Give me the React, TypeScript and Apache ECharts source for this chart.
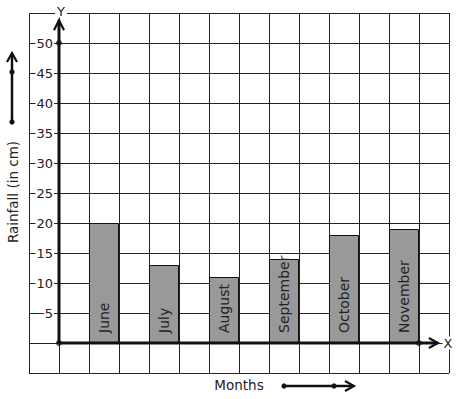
import React, { useEffect, useRef } from 'react';
import * as echarts from 'echarts';

const months = ['June', 'July', 'August', 'September', 'October', 'November'];
const rainfall = [20, 13, 11, 14, 18, 19];
const barCenters = [1.5, 3.5, 5.5, 7.5, 9.5, 11.5];
const yTickLabels = [5, 10, 15, 20, 25, 30, 35, 40, 45, 50];
const axisDots = [[0, 0], [0, 50], [12, 0]];
const yArrowEnd = 53.8;
const xArrowEnd = 12.63;
const yMax = 55;

const FONT = 'DejaVu Sans';
const INK = '#111';

export default function App() {
  const ref = useRef<HTMLDivElement>(null);
  useEffect(() => {
    document.body.style.margin = '0';
    const chart = echarts.init(ref.current!, null, { renderer: 'svg' });
    chart.setOption({
      animation: false,
      textStyle: { fontFamily: FONT },
      grid: { left: 29, right: 8, top: 13, bottom: 26, containLabel: false },
      xAxis: {
        type: 'value',
        min: -1,
        max: 13,
        interval: 1,
        name: 'X',
        nameLocation: 'end',
        nameGap: -1,
        nameTextStyle: {
          fontFamily: FONT, fontSize: 13, color: '#222', align: 'center', verticalAlign: 'middle',
          backgroundColor: '#fff', padding: [0, 1],
        },
        axisLine: { show: false, onZero: true },
        axisTick: { show: false },
        axisLabel: { show: false },
        splitLine: { show: true, lineStyle: { color: '#222', width: 1 } },
      },
      yAxis: {
        type: 'value',
        min: -5,
        max: yMax,
        interval: 5,
        axisLine: { show: false, onZero: false },
        axisTick: { show: false },
        axisLabel: {
          show: true,
          inside: true,
          align: 'right',
          margin: 25,
          customValues: yTickLabels,
          formatter: (v: number) => (yTickLabels.indexOf(v) >= 0 ? String(v) : ''),
          fontFamily: FONT,
          fontSize: 13,
          color: '#222',
          backgroundColor: '#fff',
          padding: [0, 1],
        },
        splitLine: { show: true, lineStyle: { color: '#222', width: 1 } },
      },
      series: [
        {
          type: 'bar',
          barWidth: 30,
          data: rainfall.map((v, i) => [barCenters[i], v]),
          itemStyle: { color: '#999999', borderColor: INK, borderWidth: 1 },
          label: {
            show: true,
            formatter: (p: any) => months[p.dataIndex],
            position: 'insideBottom',
            rotate: 90,
            align: 'left',
            verticalAlign: 'middle',
            distance: 10,
            fontFamily: FONT,
            fontSize: 14,
            color: '#222',
          },
          z: 2,
        },
        {
          type: 'line',
          data: [[0, 0], [0, yArrowEnd]],
          symbol: 'none',
          lineStyle: { color: INK, width: 3 },
          z: 3,
        },
        {
          type: 'line',
          data: [[0, 0], [xArrowEnd, 0]],
          symbol: 'none',
          lineStyle: { color: INK, width: 3 },
          z: 3,
        },
        {
          type: 'scatter',
          data: axisDots,
          symbol: 'circle',
          symbolSize: 6,
          itemStyle: { color: INK },
          z: 4,
        },
      ],
    });

    const px = (x: number, y: number) => chart.convertToPixel({ gridIndex: 0 }, [x, y]) as number[];
    const yTip = px(0, yArrowEnd);
    const xTip = px(xArrowEnd, 0);
    const yTop = px(0, yMax);
    const chev = { stroke: INK, lineWidth: 2.2, fill: 'none' };

    chart.setOption({
      graphic: [
        { type: 'polyline', shape: { points: [[yTip[0] - 5, yTip[1] + 10], [yTip[0], yTip[1]], [yTip[0] + 5, yTip[1] + 10]] }, style: chev, z: 10 },
        { type: 'polyline', shape: { points: [[xTip[0] - 9, xTip[1] - 5], [xTip[0], xTip[1]], [xTip[0] - 9, xTip[1] + 5]] }, style: chev, z: 10 },
        {
          type: 'text', x: yTop[0] + 2, y: yTop[1] - 2, z: 11,
          style: {
            text: 'Y', fontFamily: FONT, fontSize: 13, fill: '#222', align: 'center', verticalAlign: 'middle',
            backgroundColor: '#fff', padding: [0, 2],
          },
        },
        // left decorative arrow
        { type: 'line', shape: { x1: 12, y1: 122, x2: 12, y2: 54 }, style: { stroke: INK, lineWidth: 2.5 } },
        { type: 'polyline', shape: { points: [[7, 62], [12, 53], [17, 62]] }, style: chev },
        { type: 'circle', shape: { cx: 12, cy: 72, r: 2.6 }, style: { fill: INK } },
        { type: 'circle', shape: { cx: 12, cy: 122, r: 2.6 }, style: { fill: INK } },
        // bottom decorative arrow
        { type: 'line', shape: { x1: 284, y1: 386, x2: 353, y2: 386 }, style: { stroke: INK, lineWidth: 2.5 } },
        { type: 'polyline', shape: { points: [[345, 381], [354, 386], [345, 391]] }, style: chev },
        { type: 'circle', shape: { cx: 284, cy: 386, r: 2.6 }, style: { fill: INK } },
        { type: 'circle', shape: { cx: 334, cy: 386, r: 2.6 }, style: { fill: INK } },
        {
          type: 'text', x: 13, y: 192, rotation: Math.PI / 2,
          style: { text: 'Rainfall (in cm)', fontFamily: FONT, fontSize: 13.5, fill: '#222', align: 'center', verticalAlign: 'middle' },
        },
        {
          type: 'text', x: 239, y: 385,
          style: { text: 'Months', fontFamily: FONT, fontSize: 13.5, fill: '#222', align: 'center', verticalAlign: 'middle' },
        },
      ],
    });
    return () => chart.dispose();
  }, []);
  return <div ref={ref} style={{ width: 457, height: 399 }} />;
}
